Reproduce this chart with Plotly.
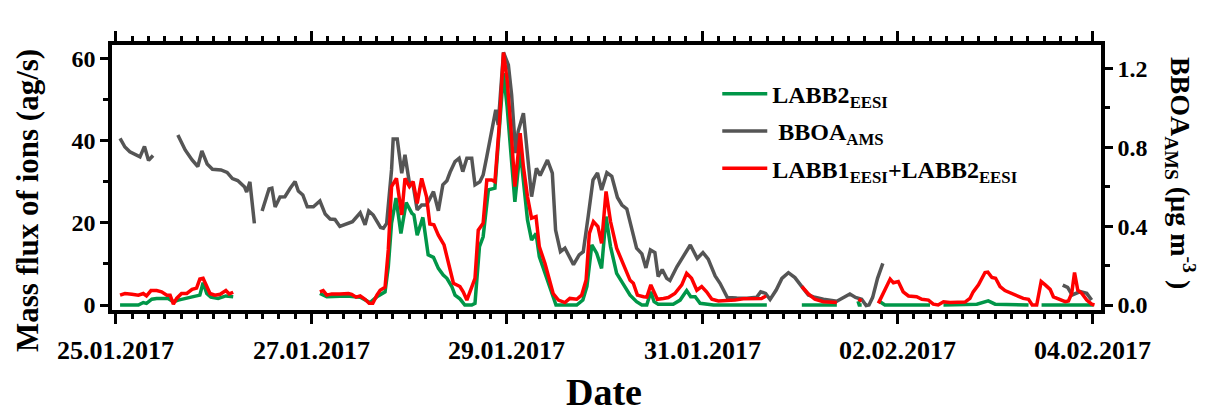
import pandas as pd
import plotly.graph_objects as go

START = pd.Timestamp("2017-01-25 00:00")

# ---- data (hours since 25.01.2017 00:00) ----
BBOA_HOURS = [1.0, 2.2, 3.4, 4.7, 5.9, 7.0, 8.0, 9.1,
              12.0,
              15.2, 17.0, 18.7, 20.1, 21.1, 22.4, 23.7, 25.8, 27.3, 28.6, 29.9, 31.6, 32.1, 32.9, 34.0,
              35.0,
              35.9, 37.6, 38.3, 39.1, 40.3, 41.5, 42.8, 44.0, 44.8, 45.9, 47.0, 48.5, 50.1, 51.4, 52.6,
              53.8, 55.0, 56.4, 58.1, 60.0, 61.2, 62.1, 63.2, 65.0, 65.7, 66.5, 67.7, 68.1, 69.1, 70.2,
              71.0, 72.1, 73.0, 74.0, 75.1, 76.3, 78.0, 79.2, 80.3, 81.3, 82.1, 83.3, 84.3, 85.2, 86.2,
              87.4, 88.2, 89.4, 90.2, 91.1, 92.3, 93.3, 93.9, 95.2, 96.4, 97.2, 98.2, 98.8, 100.1, 101.1,
              102.1, 103.3, 104.2, 106.0, 107.2, 108.0, 109.2, 110.3, 112.4, 113.8, 114.8, 116.0, 117.2,
              118.3, 119.3, 120.6, 121.8, 123.2, 124.3, 125.5, 126.7, 127.9, 129.2, 130.2, 131.3, 132.4,
              133.2, 134.2, 135.3, 136.1, 137.8, 139.4, 141.1, 142.8, 144.2, 145.5, 147.2, 148.4, 150.2,
              152.5, 155.0, 157.4, 158.4, 159.6, 160.7, 162.2, 163.6, 165.2, 166.8, 168.5, 170.1, 171.7,
              173.8, 177.1, 178.7, 180.3, 181.7, 183.2, 184.3, 185.0, 185.9, 187.1, 188.4,
              200.0,
              232.6, 233.8, 234.9, 236.9, 238.5, 239.7]
BBOA = [0.845, 0.801, 0.777, 0.761, 0.751, 0.804, 0.733, 0.758,
        None,
        0.862, 0.786, 0.735, 0.702, 0.781, 0.715, 0.688, 0.685, 0.672, 0.641, 0.631, 0.598, 0.573, 0.624, 0.414,
        None,
        0.477, 0.588, 0.592, 0.497, 0.548, 0.549, 0.592, 0.626, 0.578, 0.558, 0.498, 0.498, 0.527, 0.461, 0.436,
        0.434, 0.398, 0.411, 0.422, 0.467, 0.406, 0.477, 0.456, 0.393, 0.389, 0.414, 0.685, 0.842, 0.842, 0.668,
        0.761, 0.617, 0.609, 0.482, 0.507, 0.507, 0.575, 0.478, 0.609, 0.630, 0.674, 0.727, 0.744, 0.676, 0.744,
        0.744, 0.609, 0.625, 0.659, 0.752, 0.887, 0.989, 0.913, 1.280, 1.217, 1.065, 0.770, 0.879, 0.972, 0.752,
        0.549, 0.693, 0.657, 0.735, 0.669, 0.380, 0.270, 0.288, 0.205, 0.254, 0.270, 0.448, 0.634,
        0.669, 0.583, 0.671, 0.652, 0.545, 0.507, 0.487, 0.380, 0.288, 0.259, 0.188, 0.279, 0.266,
        0.144, 0.180, 0.135, 0.124, 0.194, 0.248, 0.304, 0.236, 0.266, 0.233, 0.147, 0.110, 0.038,
        0.035, 0.034, 0.039, 0.067, 0.059, 0.028, 0.076, 0.135, 0.164, 0.139, 0.093, 0.051, 0.039,
        0.029, 0.019, 0.039, 0.056, 0.038, 0.029, -0.003, 0.0, 0.039, 0.135, 0.211,
        None,
        0.101, 0.089, 0.051, 0.068, 0.059, 0.025]

LABB2_HOURS = [1.0, 5.5, 6.7, 7.5, 8.8, 10.0, 12.8, 14.1, 15.3, 17.0, 19.0, 20.6, 21.4, 22.3, 23.3, 25.1, 27.0, 28.8,
               40.0,
               50.1, 51.8, 56.7, 60.0, 62.4, 64.1, 66.1, 66.9, 67.7, 68.8, 70.0, 71.3, 72.7, 73.2, 74.0, 75.4,
               76.7, 78.0, 79.2, 80.4, 81.3, 82.5, 83.3, 84.5, 85.7, 87.4, 88.2, 89.3, 90.2, 91.5, 93.1, 94.2,
               95.2, 96.1, 97.0, 98.0, 99.3, 100.1, 101.1, 102.1, 103.2, 104.0, 105.4, 106.6, 108.1, 113.2,
               114.7, 115.7, 116.9, 118.1, 119.3, 120.4, 121.5, 123.0, 124.6, 126.3, 127.9, 129.2, 130.4,
               131.4, 132.2, 133.2, 136.9, 138.6, 140.2, 141.2, 142.3, 143.5, 146.8, 159.9,
               164.0,
               168.5, 172.8, 177.1,
               180.0,
               182.3, 182.6, 183.2,
               185.0,
               187.7, 188.9, 200.0,
               201.5,
               203.3, 211.5, 214.3, 216.0, 224.2,
               226.0,
               227.4, 240.1]
LABB2 = [0, 0, 0.6, 0.4, 1.4, 1.6, 1.6, 0.8, 1.2, 1.6, 2.0, 2.4, 5.4, 2.8, 1.9, 1.6, 2.2, 2.0,
         None,
         2.8, 2.0, 2.2, 1.9, 0.6, 2.0, 3.2, 9.3, 19.9, 26.0, 17.4, 24.9, 22.3, 21.9, 17.0, 21.3,
         12.2, 11.6, 8.9, 7.3, 6.5, 4.5, 2.4, 1.5, 0, 0, 0.4, 14.2, 16.6, 28.0, 28.4, 42.6,
         56.4, 48.2, 37.7, 25.1, 37.7, 29.6, 20.7, 15.8, 17.4, 11.8, 7.7, 4.1, 0, 0,
         1.2, 4.5, 14.6, 12.6, 8.9, 21.5, 14.2, 7.7, 5.1, 2.4, 0.8, 0, 0,
         3.2, 0.8, 0.2, 0.2, 1.2, 3.5, 2.0, 2.0, 0.4, 0, 0,
         None,
         0, 0, 0,
         None,
         0.9, 0, 0,
         None,
         0.8, 0, 0,
         None,
         0, 0.2, 1.0, 0.2, 0,
         None,
         0, 0]

SUM_HOURS = [1.0, 2.2, 3.9, 5.5, 6.7, 7.5, 8.6, 10.0, 11.2, 12.5, 13.3, 14.1, 14.9, 16.1, 17.4, 18.7, 19.8,
             20.6, 21.4, 22.3, 23.1, 24.3, 25.6, 27.0, 27.8, 28.8,
             40.0,
             50.1, 50.9, 51.8, 53.0, 55.0, 57.1, 57.9, 59.0, 60.0, 61.2, 62.2, 63.1, 64.1, 64.9, 66.1, 66.9,
             67.7, 68.9, 70.2, 71.0, 72.1, 73.0, 74.0, 75.1, 76.3, 77.1, 78.1, 79.2, 80.6, 81.6, 82.9, 84.5,
             85.3, 86.2, 87.4, 88.2, 89.0, 90.2, 91.1, 92.3, 93.1, 94.2, 95.2, 96.1, 97.0, 98.0, 99.3, 100.1,
             101.1, 102.1, 103.2, 104.0, 105.4, 106.5, 107.4, 108.7, 110.3, 111.5, 113.2, 114.4, 115.5, 116.3,
             117.3, 118.4, 119.3, 120.4, 121.5, 123.0, 124.3, 125.5, 126.3, 127.1, 128.1, 129.6, 130.4, 131.4,
             132.2, 133.0, 134.5, 135.7, 137.3, 139.0, 140.2, 141.4, 142.7, 143.9, 145.1, 146.4, 148.0, 150.0,
             152.1, 154.1, 156.2, 157.4, 158.6, 159.7,
             164.0,
             168.5, 170.1, 171.7, 173.8, 177.1,
             180.0,
             182.4, 183.2,
             185.0,
             187.3, 188.9, 190.2, 191.0, 192.2, 193.4, 194.7, 196.7, 198.0, 199.6, 200.8, 202.0, 203.3, 204.9,
             206.1, 208.6, 209.8, 210.6, 211.9, 212.8, 213.5, 214.2, 215.2, 216.1, 217.2, 218.4, 220.1, 221.5,
             222.9, 224.2, 225.1, 226.2, 227.3, 228.3, 229.5, 230.3, 232.0, 233.2, 234.0, 234.8, 235.5, 236.3,
             237.3, 238.5, 239.7, 240.4]
LABB1_PLUS_LABB2 = [2.4, 2.8, 2.6, 2.4, 2.8, 2.2, 3.5, 3.5, 3.2, 2.4, 2.4, 0.2, 1.6, 2.8, 2.8, 3.8, 4.1,
                    6.3, 6.5, 4.5, 2.8, 2.4, 2.6, 3.5, 2.7, 3.1,
                    None,
                    3.2, 3.5, 2.4, 2.7, 2.7, 2.8, 2.6, 1.9, 2.2, 1.4, 0.4, 0.4, 2.4, 3.6, 4.3, 13.4,
                    28.8, 30.8, 21.9, 30.8, 28.8, 30.0, 24.7, 30.8, 26.3, 19.7, 19.5, 17.0, 14.6, 10.9, 5.3, 4.5,
                    3.2, 1.2, 4.1, 6.5, 18.2, 19.9, 30.4, 30.4, 30.0, 44.2, 61.4, 54.7, 43.4, 28.8, 41.8, 33.6,
                    26.3, 21.1, 21.5, 14.2, 10.1, 6.1, 2.8, 1.2, 0.6, 1.6, 1.4, 2.4, 6.1, 17.4,
                    20.3, 19.1, 15.0, 27.6, 20.3, 13.8, 10.5, 7.7, 6.0, 5.3, 2.4, 2.0, 1.9, 4.9,
                    3.2, 1.4, 1.6, 1.8, 2.8, 4.9, 7.7, 6.5, 3.6, 4.5, 3.2, 1.4, 1.0, 1.0,
                    1.2, 1.5, 1.5, 1.6, 1.6, 2.2,
                    None,
                    4.5, 2.7, 1.4, 0.8, 0.6,
                    None,
                    1.4, 1.0,
                    None,
                    0.4, 3.6, 6.3, 5.4, 5.7, 3.2, 2.2, 2.0, 1.4, 1.2, 0.2, 0.0, 0.8, 0.6,
                    0.7, 0.7, 1.6, 3.2, 4.9, 6.5, 7.9, 8.0, 6.7, 6.5, 4.5, 3.5, 2.8, 2.0,
                    1.6, 1.4, 0.0, 0.0, 5.7, 4.9, 3.8, 2.0, 1.4, 0.8, 1.0, 2.8, 7.9, 3.6,
                    2.8, 1.2, 0.2, 0.0]

LABEL_DAYS = [0, 2, 4, 6, 8, 10]
TICK_LABELS = ["25.01.2017", "27.01.2017", "29.01.2017", "31.01.2017", "02.02.2017", "04.02.2017"]
DAY_TICKS = list(range(0, 11))
FLUX_TICKS = [0, 20, 40, 60]
BBOA_TICKS = [0.0, 0.4, 0.8, 1.2]


def to_time(hours):
    return [START + pd.Timedelta(hours=h) for h in hours]


GREEN = "rgb(0,150,72)"
GREY = "rgb(85,85,85)"
RED = "rgb(255,0,0)"
FONT = "Liberation Serif"
LW = 3.5
X_RANGE = [START + pd.Timedelta(hours=-0.98), START + pd.Timedelta(hours=242.0)]

fig = go.Figure()
fig.add_trace(go.Scatter(x=to_time(BBOA_HOURS), y=BBOA, mode="lines", yaxis="y",
                         name="\u00a0BBOA<sub>AMS</sub>", legendrank=2, legendgroup="b",
                         line=dict(color=GREY, width=LW)))
fig.add_trace(go.Scatter(x=to_time(LABB2_HOURS), y=LABB2, mode="lines", yaxis="y2",
                         name="LABB2<sub>EESI</sub>", legendrank=1, legendgroup="a",
                         line=dict(color=GREEN, width=LW)))
fig.add_trace(go.Scatter(x=to_time(SUM_HOURS), y=LABB1_PLUS_LABB2, mode="lines", yaxis="y2",
                         name="LABB1<sub>EESI</sub>+LABB2<sub>EESI</sub>", legendrank=3, legendgroup="c",
                         line=dict(color=RED, width=LW)))

tickfont_y = dict(family=FONT, size=24, color="black", weight="bold")
axis_common = dict(showline=True, linecolor="black", linewidth=LW, showgrid=False, zeroline=False,
                   ticks="outside", tickcolor="black", tickwidth=2.5)

# date tick labels, placed at their dates through the x axis
label_annotations = [
    dict(text=lab, x=START + pd.Timedelta(days=d), xref="x", yref="paper", y=-0.151,
         xanchor="center", yanchor="middle", showarrow=False,
         font=dict(family=FONT, size=26, color="black", weight="bold"))
    for d, lab in zip(LABEL_DAYS, TICK_LABELS)
]

fig.update_layout(
    width=1216, height=417,
    margin=dict(l=112, r=115, t=45, b=107),
    paper_bgcolor="white", plot_bgcolor="white",
    font=dict(family=FONT, color="black"),
    xaxis=dict(**axis_common, type="date", mirror="ticks", range=X_RANGE,
               tickmode="array", tickvals=[START + pd.Timedelta(days=d) for d in LABEL_DAYS],
               showticklabels=False, ticklen=10,
               minor=dict(dtick=4 * 3600 * 1000, tick0=START, ticks="outside", ticklen=5,
                          tickwidth=2.5, tickcolor="black", showgrid=False)),
    xaxis2=dict(type="date", overlaying="x", anchor="y", side="bottom", range=X_RANGE,
                showline=False, showgrid=False, zeroline=False, showticklabels=False,
                mirror="ticks", ticks="outside", ticklen=10, tickwidth=2.5, tickcolor="black",
                tickmode="array", tickvals=[START + pd.Timedelta(days=d) for d in DAY_TICKS]),
    yaxis=dict(**axis_common, side="right", range=[-0.0253, 1.318],
               tickmode="array", tickvals=BBOA_TICKS, ticktext=[f"{v:.1f}" for v in BBOA_TICKS],
               ticklen=8, tickfont=tickfont_y,
               minor=dict(dtick=0.2, tick0=0, ticks="outside", ticklen=5, tickwidth=2.5,
                          tickcolor="black", showgrid=False)),
    yaxis2=dict(**axis_common, side="left", overlaying="y", range=[-1.216, 63.23],
                tickmode="array", tickvals=FLUX_TICKS, ticklen=8, tickfont=tickfont_y,
                minor=dict(dtick=10, tick0=0, ticks="outside", ticklen=5, tickwidth=2.5,
                           tickcolor="black", showgrid=False)),
    legend=dict(x=0.612, y=0.899, xanchor="left", yanchor="top", bgcolor="rgba(0,0,0,0)",
                font=dict(family=FONT, size=24, color="black", weight="bold"),
                tracegroupgap=3, itemwidth=45),
    showlegend=True,
    annotations=label_annotations + [
        dict(text="Mass flux of ions (ag/s)", xref="paper", yref="paper", x=-0.0855, y=0.413,
             xanchor="center", yanchor="middle", textangle=-90, showarrow=False,
             font=dict(family=FONT, size=31, color="black", weight="bold")),
        dict(text="BBOA<sub>AMS</sub> (\u00b5g m<sup>-3</sup> )", xref="paper", yref="paper",
             x=1.08, y=0.517, xanchor="center", yanchor="middle", textangle=90, showarrow=False,
             font=dict(family=FONT, size=28, color="black", weight="bold")),
        dict(text="Date", xref="paper", yref="paper", x=0.497, y=-0.31,
             xanchor="center", yanchor="middle", showarrow=False,
             font=dict(family=FONT, size=38, color="black", weight="bold")),
    ],
)

fig.write_html("out.html", config={"displayModeBar": False},
               post_script="document.body.style.margin='0';")
